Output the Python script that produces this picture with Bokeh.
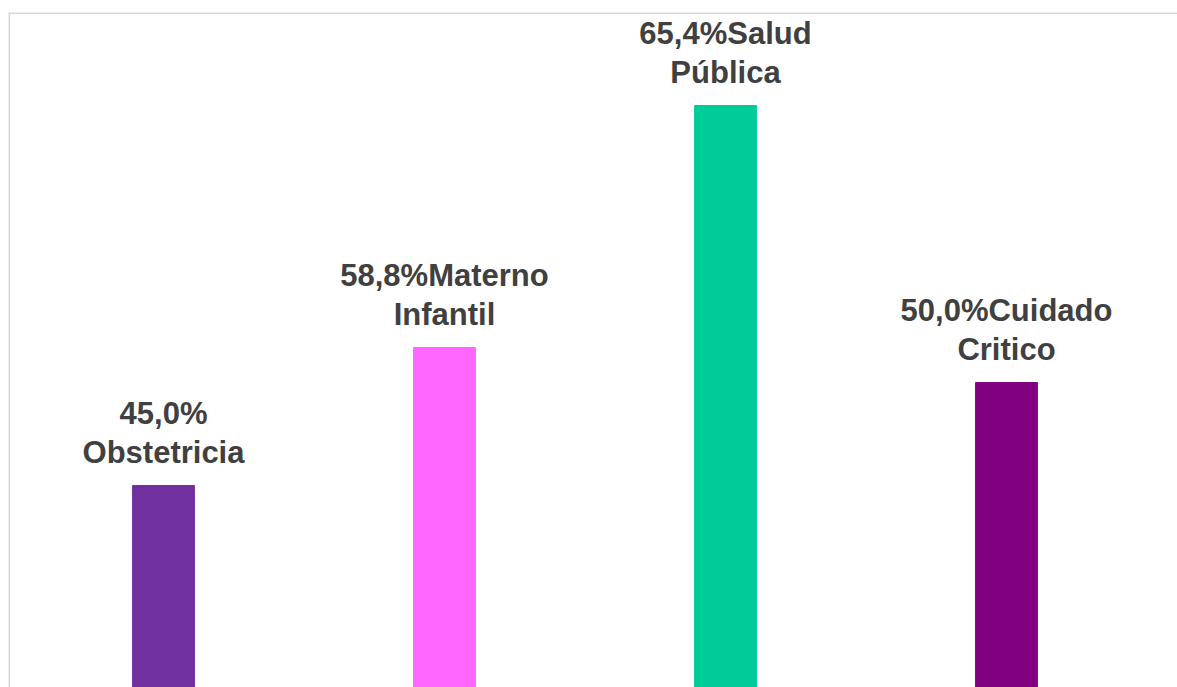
from bokeh.plotting import figure
from bokeh.models import ColumnDataSource, Range1d, Span
from bokeh.core.properties import value
from bokeh.embed import file_html
from bokeh.resources import INLINE

# Data
categories = ["Obstetricia", "Materno Infantil", "Salud Pública", "Cuidado Critico"]
percent_labels = ["45,0%", "58,8%", "65,4%", "50,0%"]
label_lines = ["45,0%\nObstetricia", "58,8%Materno\nInfantil", "65,4%Salud\nPública", "50,0%Cuidado\nCritico"]
bar_values = [202, 340, 582, 305]          # bar heights as drawn (arbitrary units)
bar_colors = ["#7030A0", "#FF66FF", "#00CC99", "#800080"]

positions = list(range(len(categories)))

source = ColumnDataSource(dict(
    x=positions, top=bar_values, color=bar_colors, label=label_lines, cat=categories,
))

W, H = 1177, 687
left_pad, top_pad = 8, 12
frame_w = W - left_pad
frame_h = H - top_pad
unit_px = 281.0

x_start = -155 / unit_px
x_end = x_start + frame_w / unit_px

p = figure(width=W, height=H, output_backend="svg", toolbar_location=None,
           x_range=Range1d(x_start, x_end),
           y_range=Range1d(0, frame_h),
           min_border_left=left_pad, min_border_top=top_pad,
           min_border_right=0, min_border_bottom=0,
           x_axis_location=None, y_axis_location=None)

p.background_fill_color = "white"
p.border_fill_color = "white"
p.outline_line_color = None
p.xgrid.visible = False
p.ygrid.visible = False

# chart-area border: only top and left edges are visible in the reference
p.add_layout(Span(location=frame_h, dimension="width", line_color="#D9D9D9", line_width=3))
p.add_layout(Span(location=x_start, dimension="height", line_color="#D9D9D9", line_width=3))

p.vbar(x="x", top="top", bottom=0, width=0.22, color="color", source=source)

p.text(x="x", y="top", text="label", source=source,
       text_font=value("Liberation Sans"), text_font_style="bold",
       text_font_size="31px", text_color="#404040",
       text_align="center", text_baseline="bottom",
       text_line_height=1.13, y_offset=-15)

open("out.html", "w").write(file_html(p, INLINE))
